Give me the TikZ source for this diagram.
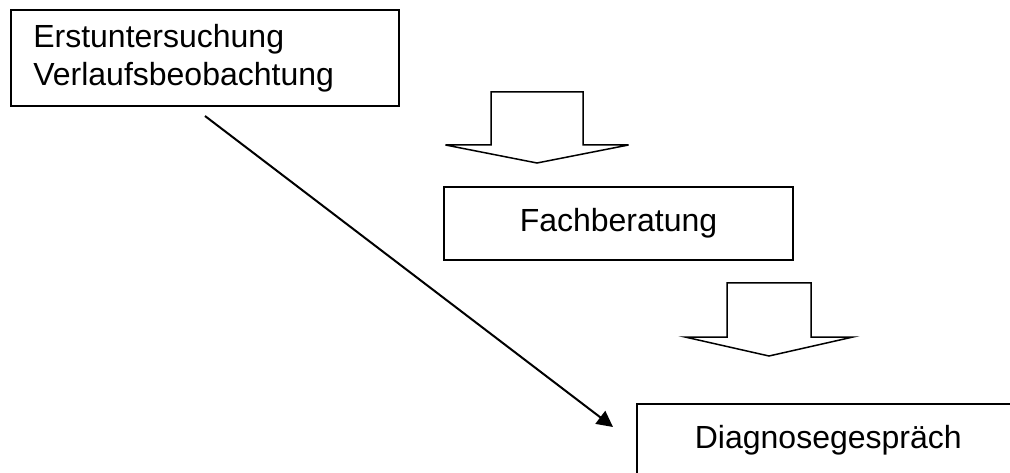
\documentclass[tikz,border=0pt]{standalone}
\usepackage{fontspec}
\setmainfont{Liberation Sans}
\usetikzlibrary{arrows.meta}

\begin{document}
\begin{tikzpicture}[x=1pt,y=-1pt]
    \tikzstyle{box}=[draw,line width=1.6pt,rectangle,inner sep=0pt,font=\fontsize{32}{38}\selectfont]
    \tikzstyle{blockarrow}=[draw,line width=1.5pt,fill=white,line join=miter]
    \tikzstyle{edge}=[draw,line width=2pt,-{Triangle[length=16pt,width=16pt]},black!100]
    \clip (0,0) rectangle (1010,473);
    \node[box,anchor=north west,minimum width=388pt,minimum height=96pt,text width=343pt,align=left] (erst) at (10,9) {Erstuntersuchung\\Verlaufsbeobachtung};
    \node[box,minimum width=349pt,minimum height=73pt] (fach) at (618.5,223.5) {Fachberatung};
    \node[box,anchor=north west,minimum width=383pt,minimum height=72pt] (diag) at (636,403) {Diagnosegespräch};
    \foreach \cx/\ytop/\shaft/\head/\ybase/\ytip in {537/92/46/91.5/145/163, 769/283/42/84/337/356}
        \draw[blockarrow] (\cx-\shaft,\ytop) -- (\cx+\shaft,\ytop) -- (\cx+\shaft,\ybase) -- (\cx+\head,\ybase)
            -- (\cx,\ytip) -- (\cx-\head,\ybase) -- (\cx-\shaft,\ybase) -- cycle;
    \coordinate (von) at (205,116);
    \coordinate (nach) at (613,427);
    \draw[edge] (von) -- (nach);
\end{tikzpicture}
\end{document}
